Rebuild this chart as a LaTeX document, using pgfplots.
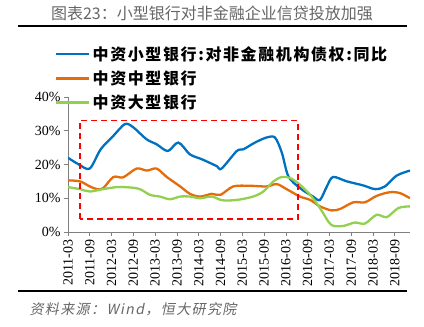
\documentclass[border=0pt]{standalone}
\usepackage{pgfplots}
\pgfplotsset{compat=1.18}
\usepackage{fontspec}
\setmainfont{Liberation Serif}
\newfontfamily\cjk{Noto Sans CJK SC}
\newfontfamily\cjkleg{Noto Sans CJK SC}[LetterSpace=10]
\newfontfamily\cjkit{Noto Sans CJK SC}[FakeSlant=0.2, LetterSpace=10]
\definecolor{cblue}{RGB}{0,112,192}
\definecolor{corange}{RGB}{228,108,10}
\definecolor{cgreen}{RGB}{146,208,80}
\definecolor{axgray}{RGB}{128,128,128}
\begin{document}
\begin{tikzpicture}[x=1bp,y=1bp]
\useasboundingbox (0,0) rectangle (424,327);
\node[font={\cjk\fontsize{16bp}{18bp}\selectfont}, text=black!60] at (212,314) {图表23：小型银行对非金融企业信贷投放加强};
\draw[line width=1.8bp] (18,301) -- (407,301);
\draw[line width=1.8bp] (18,36) -- (407,36);
\node[anchor=west, font={\cjkit\fontsize{14bp}{16bp}\selectfont}, text=black!60] at (26,18) {资料来源：Wind，恒大研究院};
\begin{axis}[
  at={(68bp,95bp)}, anchor=south west,
  scale only axis, width=342bp, height=135bp,
  xmin=0, xmax=94.2, ymin=0, ymax=40,
  axis x line*=bottom, axis y line*=left,
  axis line style={axgray, line width=0.6bp},
  xtick={0,6,...,90},
  xticklabels={2011-03,2011-09,2012-03,2012-09,2013-03,2013-09,2014-03,2014-09,2015-03,2015-09,2016-03,2016-09,2017-03,2017-09,2018-03,2018-09},
  xticklabel style={rotate=90, anchor=east, font=\rmfamily\fontsize{14bp}{15bp}\selectfont},
  ytick={0,10,20,30,40},
  yticklabel={\pgfmathprintnumber{\tick}\%},
  yticklabel style={font=\rmfamily\fontsize{14bp}{15bp}\selectfont},
  /pgf/number format/assume math mode=true,
  tick style={axgray, line width=0.6bp},
  tick align=outside, major tick length=4bp,
  legend style={at={(-0.038,1.39)}, anchor=north west, draw=none, fill=none,
    font={\cjkleg\bfseries\fontsize{16bp}{17bp}\selectfont},
    row sep=5bp, inner sep=0pt},
  legend cell align=left,
  legend image code/.code={\draw[#1, line width=2.5bp] (0bp,0bp) -- (33bp,0bp);},
  every axis plot/.append style={line width=2.3bp, smooth, tension=0.5},
]
\addplot[cblue] coordinates {
(0,22.0) (3,20.0) (6,18.8) (9,24.5) (12.5,28.5) (15.7,32) (18,31) (21.6,27.5)
(24.4,26) (27.5,24) (30.4,26.5) (33.6,23) (37,21.5) (41,19.5) (42.3,18.8)
(46.5,24) (48.3,24.5) (51.5,26.5) (54.7,28) (57,28) (58.9,23.5) (60.7,16.5)
(63.9,13) (67.5,10.5) (69.4,9.5) (71.3,13.5) (73,16.3) (76.8,15) (81.3,13.8)
(84.6,12.7) (87.3,13.5) (90.5,16.7) (94.2,18.2)};
\addlegendentry{中资小型银行:对非金融机构债权:同比}
\addplot[corange] coordinates {
(0,15.3) (3.3,15) (6,13.5) (8,12.7) (9.7,13) (12.5,16.3) (15.2,16.2) (18.9,18.8)
(21.7,18.2) (24.4,18.8) (27.2,16.3) (30.9,13.5) (33.6,11.3) (36.4,10.5) (39.6,11.3)
(42,11) (45.5,13.5) (50,13.7) (54.7,13.5) (57.5,14.2) (60.2,12.7) (63.9,10.5)
(66.7,9.5) (69.4,7.6) (72.6,6.4) (74.9,6.8) (78.6,8.8) (81.8,8.8) (85,10.7)
(88.7,11.8) (91.5,11.5) (94.2,10)};
\addlegendentry{中资中型银行}
\addplot[cgreen] coordinates {
(0,13.3) (3.3,12.7) (6,12) (9.7,12.7) (13.4,13.3) (17,13.2) (19.8,12.7) (22.6,11)
(25.3,10.5) (28.1,9.7) (30.9,10.5) (33.6,10.5) (36.4,10) (39.6,10.5) (42.5,9.4)
(46.5,9.5) (51,10.5) (53.8,12) (56.6,15) (58.9,16.3) (61.2,16) (63.9,14)
(66.7,11) (69.4,7.1) (71.7,3.1) (73.1,1.8) (75.9,1.8) (79,2.8) (81.8,2.5)
(85,5.1) (87.8,4.4) (91,7.1) (94.2,7.6)};
\addlegendentry{中资大型银行}
\draw[red, dashed, line width=1.5bp, dash pattern=on 6bp off 4bp] (axis cs:3.3,3.9) rectangle (axis cs:63.4,33.1);
\end{axis}
\end{tikzpicture}
\end{document}
